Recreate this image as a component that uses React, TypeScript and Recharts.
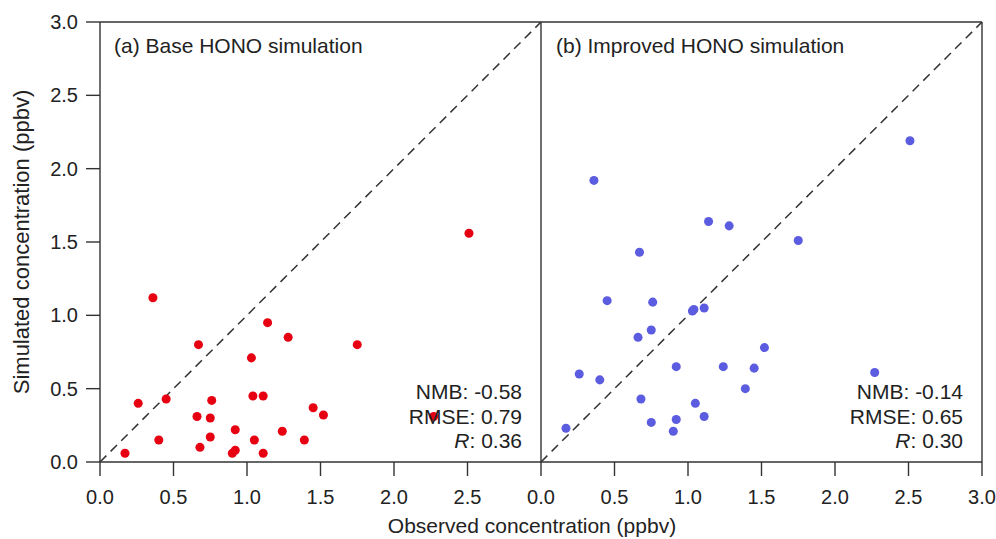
import { ScatterChart, Scatter, XAxis, YAxis, ZAxis, ReferenceLine } from 'recharts';

// observed HONO (ppbv), same sites for both runs
const observed = [0.17, 0.26, 0.36, 0.40, 0.45, 0.66, 0.67, 0.68, 0.75, 0.75, 0.76, 0.90, 0.92, 0.92, 1.03, 1.04, 1.05, 1.11, 1.11, 1.14, 1.24, 1.28, 1.39, 1.45, 1.52, 1.75, 2.27, 2.51];
const baseSim = [0.06, 0.40, 1.12, 0.15, 0.43, 0.31, 0.80, 0.10, 0.30, 0.17, 0.42, 0.06, 0.22, 0.08, 0.71, 0.45, 0.15, 0.45, 0.06, 0.95, 0.21, 0.85, 0.15, 0.37, 0.32, 0.80, 0.31, 1.56];
const improvedSim = [0.23, 0.60, 1.92, 0.56, 1.10, 0.85, 1.43, 0.43, 0.90, 0.27, 1.09, 0.21, 0.65, 0.29, 1.03, 1.04, 0.40, 1.05, 0.31, 1.64, 0.65, 1.61, 0.50, 0.64, 0.78, 1.51, 0.61, 2.19];

const yTicks = [0, 0.5, 1, 1.5, 2, 2.5, 3];
const xTicksLeft = [0, 0.5, 1, 1.5, 2, 2.5];
const xTicksRight = [0, 0.5, 1, 1.5, 2, 2.5, 3];

const baseStats = ['NMB: -0.58', 'RMSE: 0.79', '0.36'];
const improvedStats = ['NMB: -0.14', 'RMSE: 0.65', '0.30'];

const basePoints = observed.map((x, i) => ({ x, y: baseSim[i] }));
const improvedPoints = observed.map((x, i) => ({ x, y: improvedSim[i] }));

const FONT = '"Liberation Sans", Arial, sans-serif';
const AXIS = '#333';
const fmt = (v: number) => v.toFixed(1);
const tickStyle = { fill: '#222', fontSize: 20, fontFamily: FONT };

function Stats({ x, lines }: { x: number; lines: string[] }) {
  return (
    <g fontSize={21} fontFamily={FONT} fill="#222" textAnchor="end">
      <text x={x} y={399}>{lines[0]}</text>
      <text x={x} y={424}>{lines[1]}</text>
      <text x={x} y={448}>
        <tspan fontStyle="italic">R</tspan>: {lines[2]}
      </text>
    </g>
  );
}

export default function App() {
  return (
    <div style={{ position: 'absolute', left: 0, top: 0, width: 996, height: 539, background: '#fff' }}>
      <div style={{ position: 'absolute', left: 0, top: 0 }}>
        <ScatterChart width={541} height={539} margin={{ top: 22, right: 0, bottom: 0, left: 0 }}>
          <XAxis
            type="number"
            dataKey="x"
            domain={[0, 3]}
            ticks={xTicksLeft}
            tickFormatter={fmt}
            height={77}
            tickSize={14}
            tickMargin={14}
            tick={tickStyle}
            axisLine={{ stroke: AXIS, strokeWidth: 1.4 }}
            tickLine={{ stroke: AXIS, strokeWidth: 1.4 }}
          />
          <YAxis
            type="number"
            dataKey="y"
            domain={[0, 3]}
            ticks={yTicks}
            tickFormatter={fmt}
            width={100}
            tickSize={14}
            tickMargin={8}
            tick={tickStyle}
            axisLine={{ stroke: AXIS, strokeWidth: 1.4 }}
            tickLine={{ stroke: AXIS, strokeWidth: 1.4 }}
          />
          <ZAxis range={[45, 45]} />
          <ReferenceLine y={3} stroke={AXIS} strokeWidth={1.4} />
          <ReferenceLine segment={[{ x: 0, y: 0 }, { x: 3, y: 3 }]} stroke="#333" strokeWidth={1.5} strokeDasharray="9 6" />
          <Scatter data={basePoints} fill="#e60012" isAnimationActive={false} />
        </ScatterChart>
      </div>
      <div style={{ position: 'absolute', left: 521, top: 0 }}>
        <ScatterChart width={475} height={539} margin={{ top: 22, right: 14, bottom: 0, left: 20 }}>
          <XAxis
            type="number"
            dataKey="x"
            domain={[0, 3]}
            ticks={xTicksRight}
            tickFormatter={fmt}
            height={77}
            tickSize={14}
            tickMargin={14}
            tick={tickStyle}
            axisLine={{ stroke: AXIS, strokeWidth: 1.4 }}
            tickLine={{ stroke: AXIS, strokeWidth: 1.4 }}
          />
          <YAxis type="number" dataKey="y" domain={[0, 3]} hide />
          <ZAxis range={[45, 45]} />
          <ReferenceLine y={3} stroke={AXIS} strokeWidth={1.4} />
          <ReferenceLine x={0} stroke={AXIS} strokeWidth={1.4} />
          <ReferenceLine x={3} stroke={AXIS} strokeWidth={1.4} />
          <ReferenceLine segment={[{ x: 0, y: 0 }, { x: 3, y: 3 }]} stroke="#333" strokeWidth={1.5} strokeDasharray="9 6" />
          <Scatter data={improvedPoints} fill="#5c5ce0" isAnimationActive={false} />
        </ScatterChart>
      </div>
      <svg width={996} height={539} style={{ position: 'absolute', left: 0, top: 0, pointerEvents: 'none' }}>
        <g fontSize={21} fontFamily={FONT} fill="#222">
          <text x={114} y={53}>(a) Base HONO simulation</text>
          <text x={556} y={53}>(b) Improved HONO simulation</text>
          <text x={532} y={533} textAnchor="middle">Observed concentration (ppbv)</text>
          <text x={29} y={242} fontSize={22} textAnchor="middle" transform="rotate(-90 29 242)">Simulated concentration (ppbv)</text>
        </g>
        <Stats x={522} lines={baseStats} />
        <Stats x={963} lines={improvedStats} />
      </svg>
    </div>
  );
}
